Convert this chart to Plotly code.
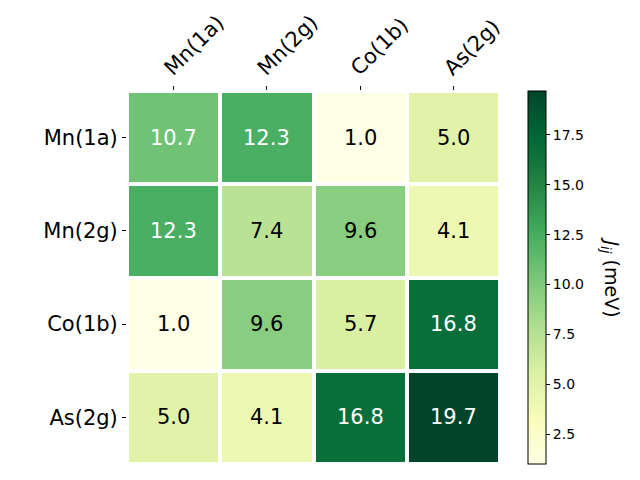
import plotly.graph_objects as go

labels = ["Mn(1a)", "Mn(2g)", "Co(1b)", "As(2g)"]
values = [
    [10.7, 12.3, 1.0, 5.0],
    [12.3, 7.4, 9.6, 4.1],
    [1.0, 9.6, 5.7, 16.8],
    [5.0, 4.1, 16.8, 19.7],
]
cbar_ticks = [2.5, 5.0, 7.5, 10.0, 12.5, 15.0, 17.5]

zmin = min(min(r) for r in values)
zmax = max(max(r) for r in values)
thresh = (zmin + zmax) / 2

OFF = 8  # default page body margin
L, T, S = 127, 91, 373
W, H = 640 - OFF, 480 - OFF
Lm, Tm = L - OFF, T - OFF

fig = go.Figure()
fig.add_trace(go.Heatmap(
    z=values, x=labels, y=labels,
    colorscale="YlGn", zmin=zmin, zmax=zmax,
    xgap=4, ygap=4,
    hoverinfo="skip",
    colorbar=dict(
        thickness=18, len=1, lenmode="fraction", y=0.5, yanchor="middle",
        x=(528 - L) / S, xanchor="left", xref="paper", xpad=0, ypad=0,
        outlinewidth=1, outlinecolor="black",
        tickvals=cbar_ticks, ticktext=[f"{v:.1f}" for v in cbar_ticks],
        ticks="outside", ticklen=4, tickwidth=1, tickcolor="black",
        tickfont=dict(family="DejaVu Sans", size=14, color="black"),
    ),
))

for i, row in enumerate(values):
    for j, v in enumerate(row):
        fig.add_annotation(
            x=labels[j], y=labels[i], text=f"{v:.1f}", showarrow=False,
            font=dict(family="DejaVu Sans", size=21,
                      color="white" if v > thresh else "black"),
        )

fig.add_annotation(
    x=(625 - L) / S, y=1 - (277 - T) / S, xref="paper", yref="paper",
    text="<i>J</i><sub><i>ij</i></sub> (meV)", showarrow=False,
    textangle=90, font=dict(family="DejaVu Sans", size=19, color="black"),
)

fig.update_xaxes(
    side="top", tickangle=-45, ticks="outside", ticklen=4, tickcolor="black",
    tickfont=dict(family="DejaVu Sans", size=21, color="black"),
    ticklabelshift=-8, ticklabelstandoff=-2,
    showgrid=False, zeroline=False, showline=False, automargin=False,
)
fig.update_yaxes(
    autorange="reversed", ticks="outside", ticklen=4, tickcolor="black",
    tickfont=dict(family="DejaVu Sans", size=21, color="black"),
    showgrid=False, zeroline=False, showline=False, automargin=False,
)
fig.update_layout(
    width=W, height=H,
    margin=dict(l=Lm, r=W - Lm - S, t=Tm, b=H - Tm - S, pad=0, autoexpand=False),
    plot_bgcolor="white", paper_bgcolor="white",
)
fig.write_html("out.html")
